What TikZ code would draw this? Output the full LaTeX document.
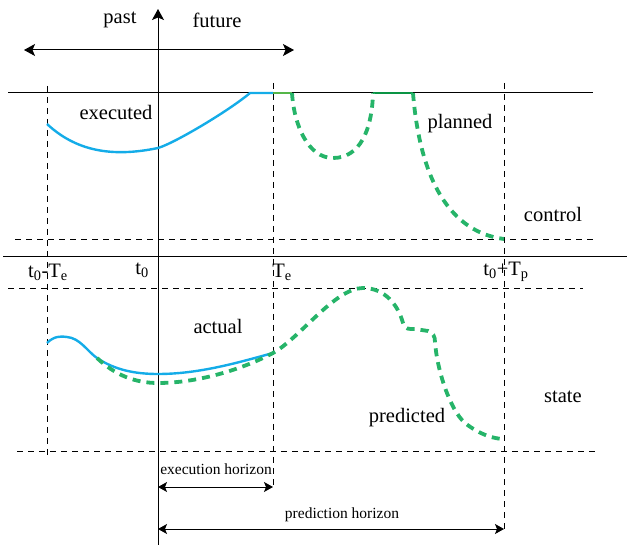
\documentclass[tikz,border=0pt]{standalone}
\usepackage{fontspec}
\setmainfont{Liberation Serif}
\usetikzlibrary{arrows.meta}
\definecolor{cblue}{RGB}{20,172,232}
\definecolor{cgreen}{RGB}{38,180,105}
\definecolor{lgreen}{RGB}{85,182,72}
\definecolor{dgreen}{RGB}{10,148,68}
\tikzset{
  axisline/.style={line width=1pt,black},
  guide/.style={line width=0.9pt,black,dash pattern=on 6pt off 5pt},
  bluecurve/.style={line width=2.4pt,cblue},
  greendash/.style={line width=3.8pt,cgreen,dash pattern=on 8pt off 6pt},
  lbl/.style={font=\fontsize{20.5}{22}\selectfont,inner sep=0pt},
  slbl/.style={font=\fontsize{15.5}{17}\selectfont,inner sep=0pt},
  bigtip/.style={-{Stealth[length=11pt,width=12pt,inset=2.5pt]}},
  dbltip/.style={{Stealth[length=11pt,width=12pt,inset=2.5pt]}-{Stealth[length=11pt,width=12pt,inset=2.5pt]}},
  smalltip/.style={{Stealth[length=9pt,width=10pt,inset=2pt]}-{Stealth[length=9pt,width=10pt,inset=2pt]}}
}
\begin{document}
\begin{tikzpicture}[x=1pt,y=-1pt]
\useasboundingbox (0,0) rectangle (627,545);
% coordinates
\coordinate (vb) at (158,545);
\coordinate (vt) at (158,9);
\coordinate (pl) at (24,50);
\coordinate (pr) at (294,50);
\coordinate (cl) at (8,93);
\coordinate (cr) at (593,93);
\coordinate (al) at (3,257);
\coordinate (ar) at (627,257);
% dashed guides
\draw[guide] (15,239) -- (593,239);
\draw[guide] (8,288) -- (583,288);
\draw[guide] (17,451) -- (597,451);
\draw[guide] (47,86) -- (47,456);
\draw[guide] (273,83) -- (273,488);
\draw[guide] (504,83) -- (504,531);
% axes
\draw[axisline,bigtip] (vb) -- (vt);
\draw[axisline,dbltip] (pl) -- (pr);
\draw[axisline] (cl) -- (cr);
\draw[axisline] (al) -- (ar);
% horizon arrows
\coordinate (eh1) at (158,487);
\coordinate (eh2) at (273,487);
\coordinate (ph1) at (158,529);
\coordinate (ph2) at (504,529);
\draw[axisline,smalltip] (eh1) -- (eh2);
\draw[axisline,smalltip] (ph1) -- (ph2);
% executed control
\draw[bluecurve] (47,124) .. controls (75,150) and (110,158) .. (158,148)
  .. controls (175,143) and (230,110) .. (250,93) -- (273,93);
\draw[line width=2.6pt,lgreen] (273,93) -- (292,93);
\draw[line width=2.6pt,dgreen] (373,93) -- (413,93);
\draw[greendash] (292,93) .. controls (294,125) and (308,158) .. (333,158)
  .. controls (360,158) and (372,130) .. (373,93);
\draw[greendash] (413,93) .. controls (420,180) and (450,232) .. (504,239);
% actual state
\draw[bluecurve] (47,343) .. controls (54,336) and (61,336) .. (67,337)
  .. controls (80,338) and (88,352) .. (97,358)
  .. controls (115,370) and (135,374) .. (158,374)
  .. controls (200,374) and (240,362) .. (273,353);
\draw[greendash] (97,358) .. controls (115,375) and (135,383) .. (158,383)
  .. controls (200,383) and (245,368) .. (273,353)
  .. controls (300,338) and (335,288) .. (363,288)
  .. controls (385,288) and (398,305) .. (403,323)
  .. controls (405,330) and (410,329) .. (415,329) -- (428,331)
  .. controls (433,333) and (435,336) .. (435,342)
  .. controls (437,370) and (450,410) .. (465,423)
  .. controls (480,435) and (495,439) .. (504,439);
% labels
\node[lbl] (past) at (120,20) {past};
\node[lbl] (future) at (217,20) {future};
\node[lbl] (executed) at (116,112) {executed};
\node[lbl] (planned) at (460,124) {planned};
\node[lbl] (control) at (553,214) {control};
\node[lbl] (actual) at (218,326) {actual};
\node[lbl] (state) at (563,397) {state};
\node[lbl] (predicted) at (407,418) {predicted};
\node[lbl] (t0te) at (48,272) {t\textsubscript{0}-T\textsubscript{e}};
\node[lbl] (t0) at (142,270) {t\textsubscript{0}};
\node[lbl] (te) at (282,272) {T\textsubscript{e}};
\node[lbl] (t0tp) at (506,272) {t\textsubscript{0}+T\textsubscript{p}};
\node[slbl] (exh) at (216,469) {execution horizon};
\node[slbl] (prh) at (342,515) {prediction horizon};
\end{tikzpicture}
\end{document}
